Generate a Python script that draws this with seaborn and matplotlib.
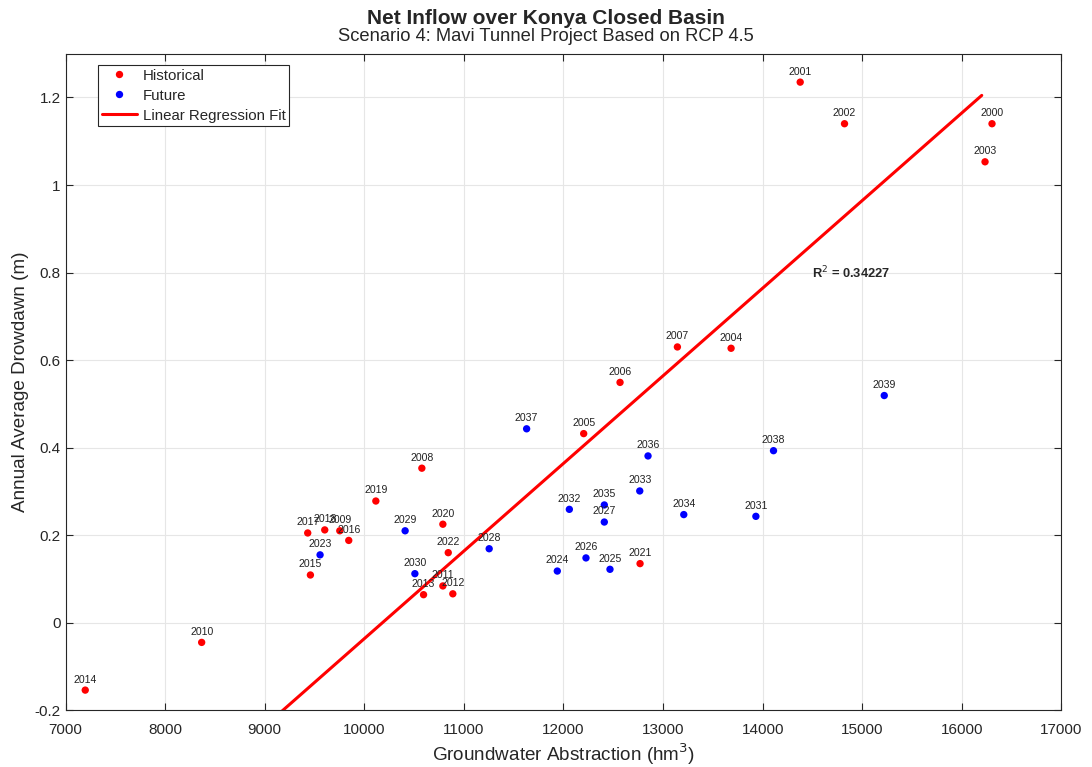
import matplotlib
matplotlib.use("Agg")
import matplotlib.pyplot as plt
from matplotlib.ticker import FuncFormatter
import seaborn as sns
import pandas as pd
import numpy as np

# Values
hist_years = list(range(2000, 2023))
hist_abstraction = [16303, 14377, 14822, 16233, 13683, 12203, 12568, 13144,
                    10578, 9754, 8367, 10789, 10889, 10595, 7198, 9459,
                    9844, 9432, 9603, 10116, 10789, 12769, 10843]
hist_drawdown = [1.140, 1.235, 1.140, 1.053, 0.627, 0.432, 0.549, 0.630,
                 0.353, 0.210, -0.045, 0.084, 0.066, 0.064, -0.154, 0.109,
                 0.188, 0.205, 0.212, 0.278, 0.225, 0.135, 0.160]

fut_years = list(range(2023, 2040))
fut_abstraction = [9556, 11938, 12467, 12226, 12410, 11254, 10410, 10508,
                   13932, 12059, 12766, 13208, 12410, 12849, 11630, 14109,
                   15221]
fut_drawdown = [0.155, 0.118, 0.122, 0.148, 0.230, 0.169, 0.210, 0.112,
                0.243, 0.259, 0.301, 0.247, 0.269, 0.381, 0.443, 0.393,
                0.519]

# regression line as drawn
fit_x = [7200, 16200]
fit_slope = 2.002e-4
fit_intercept = -2.0385
r_squared = 0.34227

df = pd.DataFrame({
    "Year": hist_years + fut_years,
    "Abstraction": hist_abstraction + fut_abstraction,
    "Drawdown": hist_drawdown + fut_drawdown,
    "Period": ["Historical"] * len(hist_years) + ["Future"] * len(fut_years),
})
fit_df = pd.DataFrame({"x": fit_x})
fit_df["y"] = fit_intercept + fit_slope * fit_df["x"]

sns.set_style("whitegrid")
plt.rcParams["font.family"] = ["Liberation Sans", "DejaVu Sans"]

fig = plt.figure(figsize=(10.92, 7.67), dpi=100)
ax = fig.add_axes([0.060, 0.074, 0.912, 0.856])

sns.scatterplot(data=df, x="Abstraction", y="Drawdown", hue="Period",
                palette={"Historical": "#ff0000", "Future": "#0000ff"},
                s=28, edgecolor="none", ax=ax, zorder=3)
sns.lineplot(data=fit_df, x="x", y="y", color="#ff0000", linewidth=2.2,
             ax=ax, label="Linear Regression Fit", zorder=2)

for yr, xv, yv in zip(df["Year"], df["Abstraction"], df["Drawdown"]):
    ax.annotate(str(yr), (xv, yv), xytext=(0, 4), textcoords="offset points",
                ha="center", va="bottom", fontsize=7.6, color="#222222")

ax.text(14500, 0.80, "R$^{2}$ = " + f"{r_squared:.5f}", fontsize=9.3,
        fontweight="bold", ha="left", va="center")

ax.set_xlim(7000, 17000)
ax.set_ylim(-0.2, 1.3)
ax.set_xticks(np.arange(7000, 17001, 1000))
ax.set_yticks(np.arange(-0.2, 1.21, 0.2))
ax.yaxis.set_major_formatter(FuncFormatter(lambda v, p: f"{round(v, 2):g}"))
ax.tick_params(direction="in", length=5, width=0.8, colors="#262626",
               labelsize=11, top=True, right=True, bottom=True, left=True)
ax.tick_params(axis="x", pad=9)
ax.grid(True, color="#e6e6e6", linewidth=0.8)
for sp in ax.spines.values():
    sp.set_color("#262626")
    sp.set_linewidth(0.8)

ax.set_xlabel("Groundwater Abstraction (hm$^{3}$)", fontsize=13.6,
              color="#262626", labelpad=3.5)
ax.set_ylabel("Annual Average Drowdawn (m)", fontsize=13.6, color="#262626")

fig.text(0.5, 0.976, "Net Inflow over Konya Closed Basin", ha="center",
         va="center", fontsize=15, fontweight="bold")
fig.text(0.5, 0.952, "Scenario 4: Mavi Tunnel Project Based on RCP 4.5",
         ha="center", va="center", fontsize=13.2)

handles, labels = ax.get_legend_handles_labels()
order = [labels.index("Historical"), labels.index("Future"),
         labels.index("Linear Regression Fit")]
leg = ax.legend([handles[i] for i in order], [labels[i] for i in order],
                loc="upper left", bbox_to_anchor=(0.033, 0.983), fontsize=10.8,
                frameon=True, fancybox=False, framealpha=1,
                edgecolor="#262626", handlelength=2.3, borderpad=0.25,
                labelspacing=0.4, handletextpad=0.4, borderaxespad=0)
leg.get_frame().set_linewidth(0.8)

fig.savefig("out.png", dpi=100)
